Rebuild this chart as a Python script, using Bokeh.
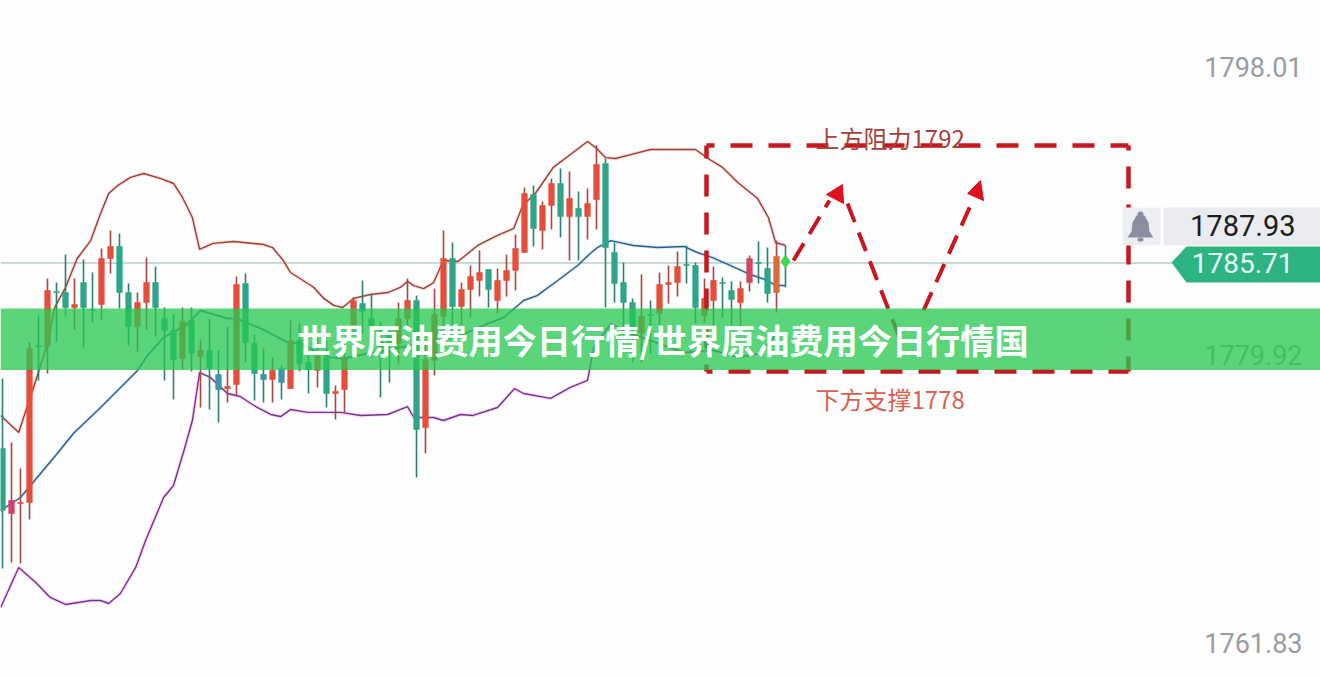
from bokeh.plotting import figure
from bokeh.models import Range1d
from bokeh.core.properties import value
from bokeh.embed import file_html
from bokeh.resources import INLINE

# ---- chart values -------------------------------------------------
highs = [1778.44,1774.42,1772.78,1780.71,1782.41,1784.73,1784.48,1786.24,1784.73,1785.93,
 1785.11,1786.62,1787.75,1787.57,1784.42,1783.85,1786.05,1785.49,1782.91,1782.47,
 1782.91,1782.91,1780.90,1782.22,1780.21,1781.71,1784.86,1785.05,1781.21,1780.33,
 1779.77,1779.26,1782.09,1781.90,1780.21,1781.02,1780.83,1778.00,1780.83,1783.54,
 1784.61,1783.73,1782.03,1781.46,1783.22,1784.73,1783.66,1780.83,1784.10,1787.75,
 1787.00,1784.48,1785.55,1786.50,1785.30,1785.36,1786.24,1787.50,1790.46,1790.58,
 1789.58,1791.02,1791.65,1791.46,1790.21,1790.39,1793.10,1792.28,1787.00,1785.74,
 1783.48,1784.99,1783.35,1785.11,1785.55,1786.43,1786.81,1785.74,1784.73,1785.49,
 1784.80,1784.55,1784.55,1786.18,1787.06,1786.68,1787.12,1786.81]
lows = [1766.49,1766.87,1766.81,1769.57,1778.32,1778.76,1780.77,1782.41,1781.53,1780.39,
 1781.97,1782.16,1785.05,1782.85,1780.52,1780.14,1781.53,1781.09,1778.32,1777.12,
 1779.01,1778.89,1776.62,1776.49,1775.68,1776.93,1777.37,1779.45,1777.06,1776.93,
 1776.93,1777.12,1777.81,1778.89,1777.50,1777.88,1776.62,1775.87,1776.31,1781.27,
 1781.27,1779.77,1777.25,1778.19,1779.39,1781.46,1772.22,1773.73,1778.63,1781.65,
 1781.02,1781.78,1782.28,1783.60,1782.91,1782.53,1783.60,1783.98,1786.37,1786.75,
 1786.56,1787.82,1787.31,1785.87,1785.87,1787.19,1787.82,1782.91,1783.22,1781.65,
 1779.45,1779.45,1780.02,1781.78,1783.16,1783.60,1784.42,1781.90,1781.97,1781.65,
 1782.28,1781.78,1781.65,1783.92,1784.42,1783.22,1782.59,1784.17]
opens = [1774.04,1769.95,1770.58,1770.64,1780.52,1780.46,1783.92,1783.85,1782.91,1784.48,
 1782.78,1783.10,1785.99,1786.75,1783.85,1781.71,1783.22,1784.48,1782.22,1781.46,
 1779.70,1782.09,1779.83,1780.21,1778.70,1777.81,1778.07,1784.42,1780.65,1778.70,
 1778.38,1779.07,1777.81,1780.83,1779.45,1778.95,1779.77,1777.50,1777.75,1781.78,
 1783.16,1782.22,1780.83,1781.34,1780.65,1782.22,1783.35,1775.36,1779.58,1782.34,
 1785.99,1782.97,1784.04,1784.61,1785.30,1783.35,1784.61,1785.24,1786.37,1790.02,
 1787.75,1789.33,1790.71,1788.63,1789.14,1788.63,1789.70,1791.97,1786.37,1784.48,
 1783.22,1781.34,1782.47,1782.53,1784.36,1784.48,1785.61,1785.55,1782.41,1783.35,
 1784.48,1783.98,1783.22,1784.48,1785.74,1785.36,1783.85,1785.74]
closes = [1770.14,1770.77,1770.64,1780.33,1780.46,1783.98,1783.85,1782.91,1783.10,1782.91,
 1782.72,1785.99,1786.75,1783.85,1781.71,1783.22,1784.48,1782.91,1781.46,1779.64,
 1782.03,1780.02,1780.21,1779.07,1777.75,1777.94,1784.36,1780.71,1778.76,1778.38,
 1778.95,1778.19,1780.83,1779.39,1779.01,1779.89,1777.50,1777.63,1779.70,1783.35,
 1782.66,1781.78,1780.08,1780.52,1782.22,1783.35,1775.24,1779.64,1782.47,1785.99,
 1782.97,1784.04,1784.86,1785.11,1784.04,1784.61,1785.24,1786.62,1790.08,1787.88,
 1789.33,1790.71,1788.63,1789.77,1788.63,1789.45,1791.90,1786.68,1784.42,1783.22,
 1781.65,1782.34,1782.41,1784.36,1784.48,1785.49,1785.55,1782.91,1783.48,1784.61,
 1784.42,1783.41,1784.10,1785.99,1785.68,1783.79,1786.12,1785.80]

upper_x = [-0.2,1.8,3.7,5,5.8,7,8.3,9.8,10.9,11.8,12.8,14.2,15.7,17.6,19,20,21.1,21.9,23.4,25.7,29,30,31.2,32,
 33.4,34.6,35.7,36.8,37.8,39,40.9,42.8,44.2,45,45.7,46.8,47.9,49,50.6,52.8,55,56.8,57.8,59.2,61.2,63.4,65,65.9,
 67,68.1,69.8,72,77,78.4,80,81.7,83.9,85.1,85.9,87]
upper_y = [1776.12,1775.05,1778.32,1780.65,1782.91,1784.17,1785.99,1787.12,1788.82,1790.08,1790.58,1791.09,1791.34,
 1791.02,1790.71,1789.83,1788.57,1786.56,1786.94,1787.06,1786.87,1786.68,1785.87,1785.11,
 1784.61,1784.17,1783.48,1783.04,1782.91,1783.48,1783.73,1783.85,1784.17,1784.55,1784.29,1784.10,1784.48,1785.87,
 1785.80,1786.81,1787.44,1787.88,1789.33,1790.08,1791.72,1792.66,1793.35,1792.97,
 1792.34,1792.28,1792.53,1792.85,1792.85,1792.28,1791.72,1790.77,1789.77,1788.57,1787.00,1786.81]
middle_x = [-0.2,2,3.3,5.9,7.9,10.9,13.9,15,16.1,17.9,20.6,22,25,26,28.7,31.7,32.8,36.4,37.9,40.6,44.2,47.6,50.9,53.9,
 55.7,57.9,59.4,61.7,63.9,65.3,66.1,67.6,70.1,72.8,75.7,77.2,78.9,80.9,82.8,85,85.9,87]
middle_y = [1770.14,1770.96,1771.84,1773.60,1775.00,1776.62,1778.32,1778.95,1779.89,1781.02,1781.90,1782.72,1782.22,
 1782.22,1781.59,1780.71,1780.65,1779.77,1779.70,1780.02,1780.39,1780.71,1781.15,1781.90,
 1782.28,1783.35,1783.66,1784.61,1785.55,1786.31,1786.68,1787.12,1786.81,1786.68,1786.75,1786.37,1786.05,1785.55,
 1785.05,1784.61,1784.29,1784.29]
lower_x = [-0.2,1.8,3.7,5.3,7,9.8,10.9,11.8,13.1,14.8,15.9,17.9,19,20.1,21.1,21.9,23.1,25,26.4,28.3,29.8,30.9,32,33.9,
 37.6,39.8,42.8,45,45.7,47.9,49,50.9,52.3,55,56.9,57.9,60.9,63.1,65,65.7,67.6,69,72.8,75.7,79,81.7,84.2,85.9]
lower_y = [1764.04,1766.56,1765.61,1764.67,1764.23,1764.48,1764.48,1764.29,1764.92,1766.56,1768.25,1770.96,1771.71,
 1773.79,1775.80,1778.82,1778.51,1777.50,1777.31,1776.62,1776.18,1776.05,1776.49,1776.31,
 1776.31,1776.12,1776.18,1776.68,1775.99,1775.99,1775.80,1776.18,1776.12,1776.62,1777.81,1777.50,1777.19,1777.88,
 1778.32,1780.39,1781.90,1781.46,1780.65,1780.08,1780.21,1779.77,1780.02,1781.15]

axis_ticks = [1798.01, 1779.92, 1761.83]
axis_labels = ["1798.01", "1779.92", "1761.83"]
last_price = 1785.71
crosshair_price = 1787.93
resistance = "上方阻力1792"
support = "下方支撑1778"
title = "世界原油费用今日行情/世界原油费用今日行情国"

# ---- canvas ---------------------------------------------------------
W, H = 1320, 678
X = lambda px: (px - 2) / 9
Y = lambda py: 1802.22 - 0.0629 * py

p = figure(width=W, height=H, output_backend="svg", toolbar_location=None,
           x_range=Range1d(X(0), X(W)), y_range=Range1d(Y(H), Y(0)),
           x_axis_location=None, y_axis_location=None, min_border=0)
p.grid.visible = False
p.outline_line_color = None
p.background_fill_color = "#fefefe"
p.border_fill_color = "#fefefe"
p.styles = {"position": "absolute", "left": "0", "top": "0"}

idx = list(range(len(closes)))
RED, GREEN = "#e64d3a", "#2fa58a"
override = {1: "#d6406a", 24: "#3b96a6", 29: "#3b96a6", 31: "#3b96a6", 83: "#d5455f", 86: "#dd6a3c", 87: "#3fd84a"}
body = [override.get(i, RED if closes[i] > opens[i] else GREEN) for i in idx]
wick = ["#2b7f70" if i == 87 else ("#a5483f" if closes[i] > opens[i] else "#2b7f70") for i in idx]

# last price line
p.segment(X(0), last_price, X(1172), last_price, line_color="#8fb8b0", line_width=1)

# Bollinger bands with soft halo
for xs, ys, c, halo in [(upper_x, upper_y, "#9c3e36", "#f0a090"),
                        (middle_x, middle_y, "#2b5e8c", "#90c0e0"),
                        (lower_x, lower_y, "#7b2f8f", "#e090f0")]:
    p.line(xs, ys, line_color=halo, line_width=3.5, line_alpha=0.3)
    p.line(xs, ys, line_color=c, line_width=1.4)

# candles
p.segment(idx, lows, idx, highs, line_color=wick, line_width=1.6)
p.vbar(x=idx[:-1], width=0.62,
       top=[max(opens[i], closes[i]) for i in idx[:-1]],
       bottom=[min(opens[i], closes[i]) for i in idx[:-1]],
       fill_color=body[:-1], line_color=body[:-1], line_width=0.6)
p.scatter([idx[-1]], [closes[-1]], marker="diamond", size=13, fill_color="#3fd84a", line_color="#3fd84a")

# dashed target box
RC = "#c8171e"
left, right, top, bottom = X(706), X(1128), Y(145), Y(371)
for xs, ys, off in [([left, right], [top, top], 14), ([right, right], [top, bottom], 17),
                    ([right, left], [bottom, bottom], 2), ([left, left], [top, bottom], 9)]:
    p.line(xs, ys, line_color=RC, line_width=4.5, line_dash="22 16", line_dash_offset=off)

# arrows
for pts in [[(793, 260), (829, 200)], [(847, 203), (900, 340)], [(923, 310), (970, 205)]]:
    p.line([X(a) for a, _ in pts], [Y(b) for _, b in pts], line_color=RC, line_width=4, line_dash="20 11")
for tri in [[(842, 184), (826, 194), (843, 203)], [(980, 180), (967, 193), (983, 200)]]:
    p.patch([X(a) for a, _ in tri], [Y(b) for _, b in tri], fill_color="#e01020", line_color="#e01020")


def label(px, py, txt, size, color, font="Roboto", align="left", style="normal"):
    p.text(x=[X(px)], y=[Y(py)], text=[txt], text_font=value(font), text_font_size=f"{size}px",
           text_color=color, text_align=align, text_baseline="middle", text_font_style=style)


label(815, 137, resistance, 24, "#a8403a", "Noto Sans CJK SC")
label(815, 398, support, 24, "#d8604f", "Noto Sans CJK SC")

# axis tick labels
for t, s in zip(axis_ticks, axis_labels):
    label(1302, (1802.22 - t) / 0.0629, s, 27, "#989da2", align="right")

# crosshair tag and bell
p.quad(left=X(1163), right=X(W), top=Y(207), bottom=Y(245), fill_color="#e9ebef", line_color=None)
p.quad(left=X(1122), right=X(1160), top=Y(207), bottom=Y(245), fill_color="#eceef1", line_color=None)
bell = [(1136, 215), (1144, 215), (1148, 222), (1149, 231), (1153, 237), (1127, 237), (1131, 231), (1132, 222)]
p.patch([X(a) for a, _ in bell], [Y(b) for _, b in bell], fill_color="#8a8ea0", line_color=None)
p.ellipse([X(1140)], [Y(214)], width=6 / 9, height=0.0629 * 6, fill_color="#8a8ea0", line_color=None)
p.ellipse([X(1140)], [Y(239)], width=6 / 9, height=0.0629 * 4, fill_color="#8a8ea0", line_color=None)
label(1295, 225, f"{crosshair_price:.2f}", 29, "#1a1c20", align="right")

# last price tag
tag = [(1171, 262), (1186, 246), (W, 246), (W, 282), (1186, 282)]
p.patch([X(a) for a, _ in tag], [Y(b) for _, b in tag], fill_color="#2eb383", line_color=None)
label(1293, 262, f"{last_price:.2f}", 28, "#e8fff5", align="right")

# title band
p.quad(left=X(0), right=X(W), top=Y(308), bottom=Y(369.5), fill_color="#27c850", fill_alpha=0.76, line_color=None)
label(297, 338, title, 34.2, "#ffffff", "Noto Sans CJK SC", style="bold")

open("out.html", "w").write(file_html(p, INLINE))
